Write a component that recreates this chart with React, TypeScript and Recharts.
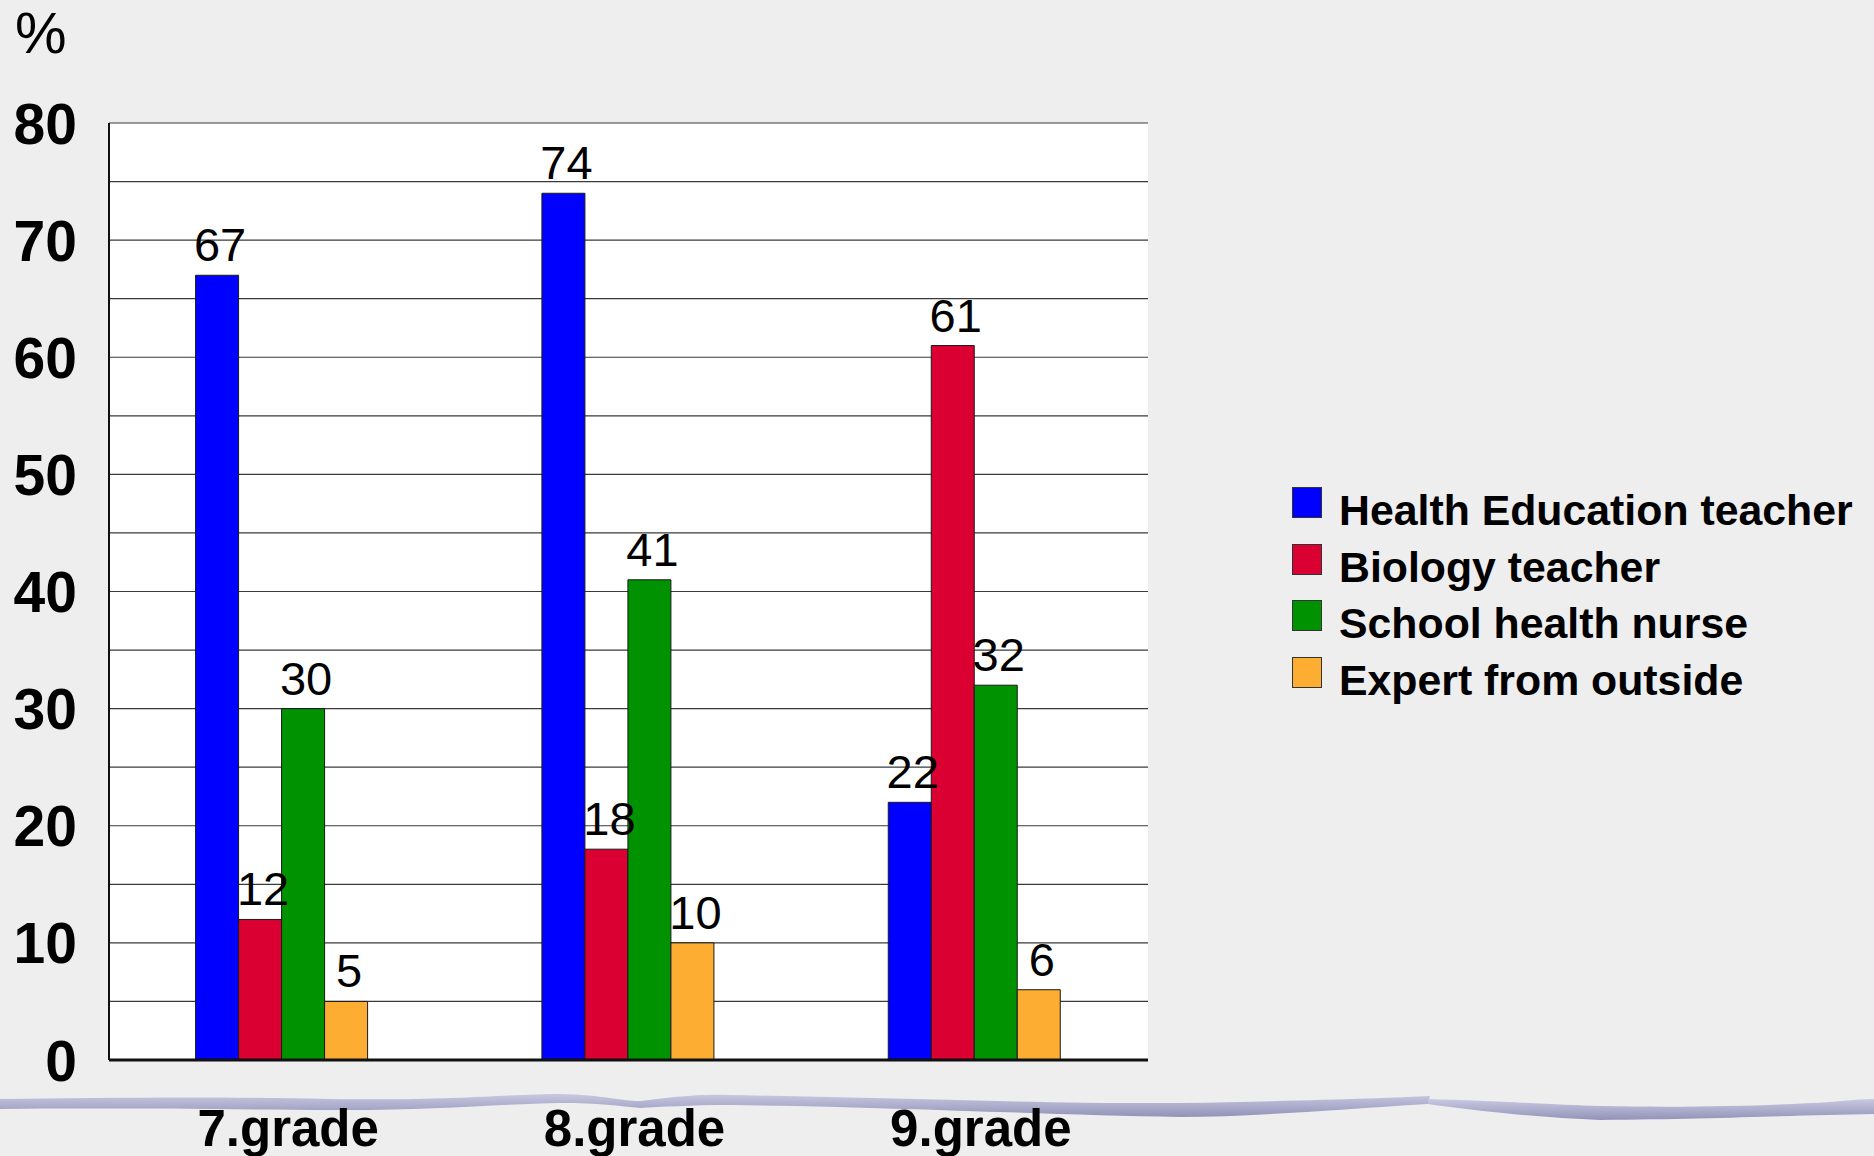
import { BarChart, Bar, XAxis, YAxis, CartesianGrid, Legend, LabelList } from 'recharts'

const categories = ['7.grade', '8.grade', '9.grade']
const healthEducationTeacher = [67, 74, 22]
const biologyTeacher = [12, 18, 61]
const schoolHealthNurse = [30, 41, 32]
const expertFromOutside = [5, 10, 6]

const seriesKeys = ['health', 'biology', 'nurse', 'expert']
const seriesNames = ['Health Education teacher', 'Biology teacher', 'School health nurse', 'Expert from outside']
const seriesColors = ['#0000ff', '#da0032', '#009200', '#fdad31']

const yTicks = [0, 5, 10, 15, 20, 25, 30, 35, 40, 45, 50, 55, 60, 65, 70, 75, 80]
const yTickLabels = [0, 10, 20, 30, 40, 50, 60, 70, 80]

const data = categories.map((grade, i) => ({
  grade,
  health: healthEducationTeacher[i],
  biology: biologyTeacher[i],
  nurse: schoolHealthNurse[i],
  expert: expertFromOutside[i],
}))

const FONT = '"Liberation Sans", Arial, sans-serif'

function YTick({ x, y, payload }: any) {
  if (!yTickLabels.includes(payload.value)) return null
  return (
    <text x={x} y={y} dy="0.36em" textAnchor="end" fontFamily={FONT} fontWeight={700} fontSize={57} fill="#000">
      {payload.value}
    </text>
  )
}

function XTick({ x, y, payload }: any) {
  return (
    <text x={x + 6} y={y} dy="0.71em" textAnchor="middle" fontFamily={FONT} fontWeight={700} fontSize={51} fill="#000">
      {payload.value}
    </text>
  )
}

function LegendBox() {
  return (
    <div style={{ fontFamily: FONT }}>
      {seriesNames.map((name, i) => (
        <div key={name} style={{ display: 'flex', alignItems: 'flex-start', height: 56.7, lineHeight: '56.7px' }}>
          <div style={{ width: 28, height: 29, marginTop: 5, background: seriesColors[i], border: '1px solid #333', flex: 'none' }} />
          <div style={{ marginLeft: 17, fontSize: 42.8, fontWeight: 700, color: '#000', whiteSpace: 'nowrap' }}>{name}</div>
        </div>
      ))}
    </div>
  )
}

export default function App() {
  return (
    <div style={{ position: 'absolute', left: 0, top: 0, width: 1874, height: 1156, background: '#eeeeee', overflow: 'hidden' }}>
      <svg width={1874} height={1156} style={{ position: 'absolute', left: 0, top: 0 }}>
        <defs>
          <linearGradient id="wave" x1="0" y1="0" x2="0" y2="1">
            <stop offset="0" stopColor="#c9c9e2" />
            <stop offset="1" stopColor="#9292b8" />
          </linearGradient>
        </defs>
        <path
          fill="url(#wave)"
          d="M0,1099 C100,1098 200,1096 330,1099 C450,1101 510,1094 560,1094 C605,1095 620,1101 640,1101 C670,1098 690,1094 730,1095 C900,1098 1060,1104 1180,1103 C1300,1101 1390,1098 1430,1096 L1428,1104 C1330,1110 1250,1117 1180,1117 C1050,1115 900,1107 730,1105 C690,1105 660,1107 640,1108 C620,1106 600,1103 560,1103 C500,1104 420,1111 330,1110 C200,1109 100,1108 0,1109 Z"
        />
        <path
          fill="url(#wave)"
          d="M1428,1099 C1500,1101 1560,1105 1600,1106 C1700,1108 1780,1105 1830,1102 C1850,1100 1865,1099 1874,1099 L1874,1114 C1800,1115 1720,1119 1600,1120 C1540,1118 1470,1110 1428,1104 Z"
        />
        <text x={15} y={53} fontFamily={FONT} fontSize={58} fill="#000">%</text>
      </svg>
      <div style={{ position: 'absolute', left: 0, top: 0 }}>
        <BarChart
          width={1874}
          height={1156}
          data={data}
          margin={{ top: 123, right: 726, bottom: 0, left: 0 }}
          barCategoryGap="25%"
          barGap={0}
        >
          <CartesianGrid yAxisId="l" vertical={false} stroke="#3a3a3a" strokeWidth={1.2} fill="#ffffff" fillOpacity={1} />
          <XAxis
            dataKey="grade"
            height={96}
            axisLine={{ stroke: '#111', strokeWidth: 3 }}
            tickLine={false}
            tickMargin={44}
            tick={<XTick />}
            interval={0}
          />
          <YAxis
            yAxisId="l"
            width={109}
            domain={[0, 80]}
            ticks={yTicks}
            interval={0}
            axisLine={{ stroke: '#111', strokeWidth: 2 }}
            tickLine={false}
            tickMargin={26}
            tick={<YTick />}
          />
          <YAxis
            yAxisId="r"
            orientation="right"
            width={0}
            domain={[0, 80]}
            tick={false}
            tickLine={false}
            axisLine={{ stroke: '#555', strokeWidth: 2 }}
          />
          <Legend
            layout="vertical"
            align="center"
            verticalAlign="middle"
            wrapperStyle={{ left: 1292, top: 482, width: 580 }}
            content={<LegendBox />}
          />
          {seriesKeys.map((key, i) => (
            <Bar
              key={key}
              yAxisId="l"
              dataKey={key}
              name={seriesNames[i]}
              fill={seriesColors[i]}
              stroke="#1a1a1a"
              strokeWidth={1}
              isAnimationActive={false}
            >
              <LabelList
                dataKey={key}
                position="top"
                offset={14}
                dx={3}
                fontFamily={FONT}
                fontSize={47}
                fill="#000"
              />
            </Bar>
          ))}
        </BarChart>
      </div>
    </div>
  )
}
